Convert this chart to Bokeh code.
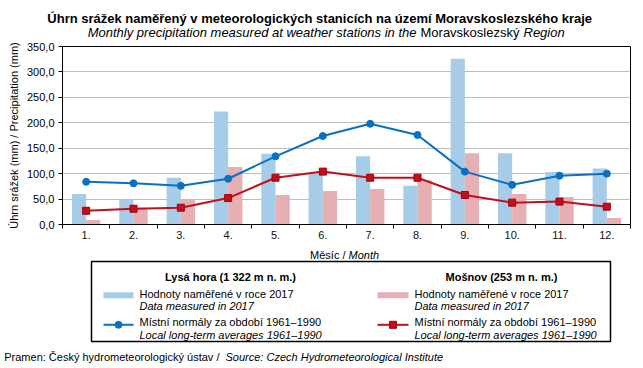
import numpy as np
from bokeh.plotting import figure
from bokeh.models import Range1d, FixedTicker, CustomJSTickFormatter
from bokeh.core.properties import value
from bokeh.embed import file_html
from bokeh.resources import INLINE

# ---------------- data ----------------
months = ["1.", "2.", "3.", "4.", "5.", "6.", "7.", "8.", "9.", "10.", "11.", "12."]
lysa_2017 = [60, 48, 92, 222, 139, 100, 134, 76, 326, 140, 103, 110]
mosnov_2017 = [9, 33, 49, 113, 58, 66, 70, 87, 140, 60, 54, 13]
lysa_norm = [84, 81, 76, 90, 134, 174, 198, 176, 104, 78, 96, 100]
mosnov_norm = [27, 31, 33, 52, 92, 104, 92, 92, 58, 43, 45, 35]
y_ticks = [0, 50, 100, 150, 200, 250, 300, 350]

BLUE_BAR = "#A7CCE8"
PINK_BAR = "#E6AFB3"
BLUE_LINE = "#0A70C0"
RED_LINE = "#C0101C"
FONT = "Liberation Sans"

W = 635
H_TOP, H_MAIN, H_FOOT = 40, 203, 123
Y_MAIN = H_TOP
Y_FOOT = H_TOP + H_MAIN


def blank(height, y0):
    f = figure(width=W, height=height, output_backend="svg", toolbar_location=None,
               x_range=Range1d(0, W), y_range=Range1d(y0 + height, y0),
               x_axis_location=None, y_axis_location=None,
               min_border=0, min_border_left=0, min_border_right=0,
               min_border_top=0, min_border_bottom=0,
               background_fill_color="white", border_fill_color="white")
    f.grid.visible = False
    f.outline_line_color = None
    return f


def txt(f, x, y, text, size="11px", style="normal", align="left", font=FONT):
    f.text(x=[x], y=[y], text=[text], text_font=value(font), text_font_size=value(size),
           text_font_style=value(style), text_align=value(align),
           text_baseline=value("alphabetic"), text_color="black")


# ---------------- header ----------------
top = blank(H_TOP, 0)
txt(top, 321, 18.3, "Úhrn srážek naměřený v meteorologických stanicích na území Moravskoslezského  kraje",
    size="13px", style="bold", align="center")
txt(top, 416, 32.3, "Monthly precipitation measured at weather stations in the",
    size="13px", style="italic", align="right")
txt(top, 420, 32.3, "Moravskoslezský", size="13px", align="left")
txt(top, 523, 32.3, "Region", size="13px", style="italic", align="left")

# ---------------- main chart ----------------
p = figure(width=W, height=H_MAIN, output_backend="svg", toolbar_location=None,
           x_range=Range1d(0, 12), y_range=Range1d(0, 350),
           min_border_left=62, min_border_right=5, min_border_top=6, min_border_bottom=19,
           background_fill_color="white", border_fill_color="white")
p.outline_line_color = "black"
p.outline_line_width = 1

idx = np.arange(len(months))
centers = idx + 0.5
p.vbar(x=centers - 0.15, top=lysa_2017, width=0.3, color=BLUE_BAR, line_color=None)
p.vbar(x=centers + 0.15, top=mosnov_2017, width=0.3, color=PINK_BAR, line_color=None)
p.line(centers, lysa_norm, line_color=BLUE_LINE, line_width=2)
p.scatter(centers, lysa_norm, marker="circle", size=7, fill_color=BLUE_LINE, line_color=BLUE_LINE)
p.line(centers, mosnov_norm, line_color=RED_LINE, line_width=2)
p.scatter(centers, mosnov_norm, marker="square", size=7, fill_color=RED_LINE, line_color="#A00010")

p.xgrid.visible = False
p.ygrid.grid_line_color = "#BEBEBE"
p.ygrid.grid_line_width = 1

p.yaxis.ticker = FixedTicker(ticks=y_ticks)
p.yaxis.formatter = CustomJSTickFormatter(code="return tick.toFixed(1).replace('.', ',');")
p.yaxis.major_tick_out = 4
p.yaxis.major_tick_in = 0
p.yaxis.minor_tick_out = 0
p.yaxis.minor_tick_in = 0
p.yaxis.axis_line_color = "black"
p.yaxis.major_tick_line_color = "black"
p.yaxis.major_label_text_font = FONT
p.yaxis.major_label_text_font_size = "11px"
p.yaxis.major_label_text_color = "black"
p.yaxis.major_label_standoff = 4
p.yaxis.axis_label = "Úhrn srážek (mm) / Precipitation (mm)"
p.yaxis.axis_label_text_font = FONT
p.yaxis.axis_label_text_font_size = "11px"
p.yaxis.axis_label_text_font_style = "normal"
p.yaxis.axis_label_text_color = "black"
p.yaxis.axis_label_standoff = 4

p.xaxis.ticker = FixedTicker(ticks=list(centers), minor_ticks=list(range(len(months) + 1)))
p.xaxis.formatter = CustomJSTickFormatter(args=dict(labels=months),
                                          code="return labels[Math.round(tick - 0.5)];")
p.xaxis.major_tick_out = 0
p.xaxis.major_tick_in = 0
p.xaxis.minor_tick_out = 4
p.xaxis.minor_tick_in = 0
p.xaxis.minor_tick_line_color = "black"
p.xaxis.axis_line_color = "black"
p.xaxis.major_label_text_font = FONT
p.xaxis.major_label_text_font_size = "11px"
p.xaxis.major_label_text_color = "#111111"
p.xaxis.major_label_standoff = 2

# ---------------- footer: axis title, legend, source ----------------
foot = blank(H_FOOT, Y_FOOT)
txt(foot, 345, 254.5, "Měsíc /", align="right")
txt(foot, 348, 254.5, "Month", style="italic")

# legend frame
foot.quad(left=91, right=610, top=261, bottom=341, fill_color=None, line_color="black", line_width=1.5)
txt(foot, 230, 276.7, "Lysá hora (1 322 m n. m.)", style="bold", align="center")
txt(foot, 501, 276.7, "Mošnov (253 m n. m.)", style="bold", align="center")
foot.quad(left=103, right=133, top=291.7, bottom=297.7, color=BLUE_BAR, line_color=None)
foot.quad(left=377, right=408, top=291.7, bottom=297.7, color=PINK_BAR, line_color=None)
foot.line([103, 133], [324.3, 324.3], line_color=BLUE_LINE, line_width=2)
foot.scatter([118], [324.3], marker="circle", size=7, fill_color=BLUE_LINE, line_color=BLUE_LINE)
foot.line([377, 408], [324.3, 324.3], line_color=RED_LINE, line_width=2)
foot.scatter([392.5], [324.3], marker="square", size=7, fill_color=RED_LINE, line_color="#A00010")
for x0 in (139, 414):
    txt(foot, x0, 293.3, "Hodnoty naměřené v roce 2017")
    txt(foot, x0, 305, "Data measured in 2017", style="italic")
    txt(foot, x0, 321.7, "Místní normály za období 1961–1990")
    txt(foot, x0, 334, "Local long-term averages 1961–1990", style="italic")

txt(foot, 222, 356.7, "Pramen:  Český hydrometeorologický ústav /", size="11px", align="right")
txt(foot, 225, 356.7, "Source: Czech Hydrometeorological Institute", size="11px", style="italic")

open("out.html", "w").write(file_html([top, p, foot], INLINE))
